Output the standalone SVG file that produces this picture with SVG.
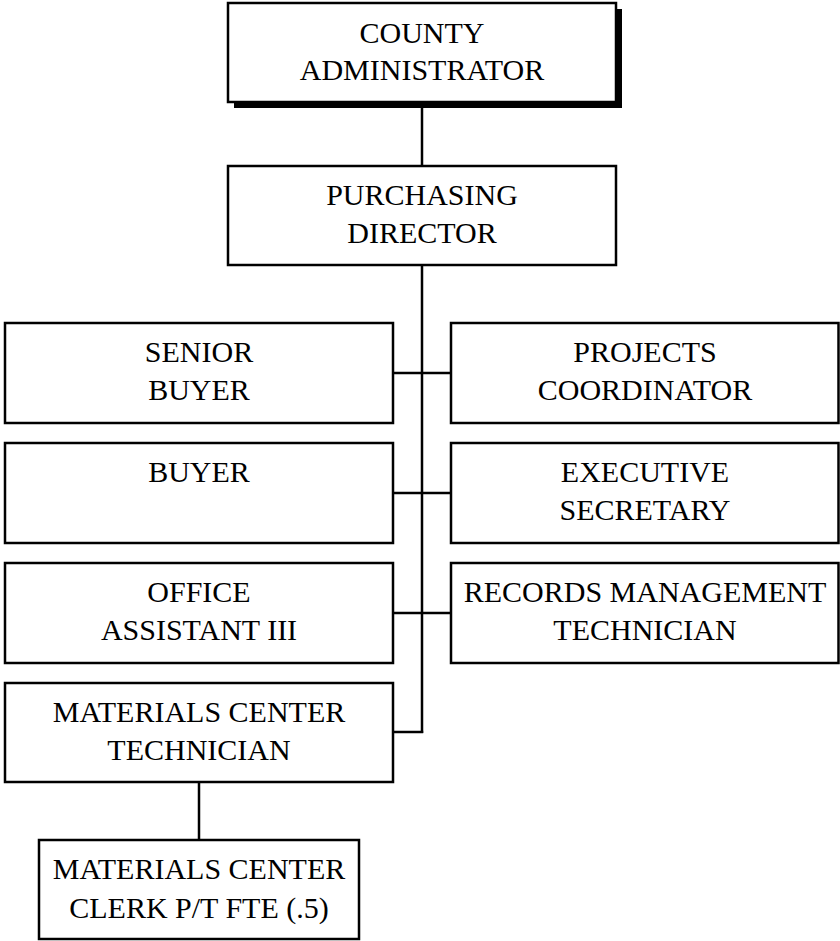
<svg xmlns="http://www.w3.org/2000/svg" width="840" height="941" viewBox="0 0 840 941">
  <style>
    .box { fill: #ffffff; stroke: #000000; stroke-width: 2.5; }
    .shadow { fill: #000000; }
    .lbl { font-family: "Liberation Serif", "Times New Roman", serif; font-size: 30px; fill: #000000; text-anchor: middle; }
    .conn { stroke: #000000; stroke-width: 2.5; fill: none; }
  </style>

  <!-- reporting lines -->
  <g id="connectors">
    <line class="conn" x1="422" y1="102" x2="422" y2="166"/>
    <line class="conn" x1="422" y1="265" x2="422" y2="733"/>
    <line class="conn" x1="393" y1="373" x2="451" y2="373"/>
    <line class="conn" x1="393" y1="493" x2="451" y2="493"/>
    <line class="conn" x1="393" y1="613" x2="451" y2="613"/>
    <line class="conn" x1="393" y1="732" x2="423.2" y2="732"/>
    <line class="conn" x1="199" y1="782" x2="199" y2="840"/>
  </g>

  <g id="county-administrator">
    <rect class="shadow" x="234" y="9" width="388" height="99"/>
    <rect class="box" x="228" y="3" width="388" height="99"/>
    <text class="lbl" x="422" y="43">COUNTY</text>
    <text class="lbl" x="422" y="80">ADMINISTRATOR</text>
  </g>

  <g id="purchasing-director">
    <rect class="box" x="228" y="166" width="388" height="99"/>
    <text class="lbl" x="422" y="205">PURCHASING</text>
    <text class="lbl" x="422" y="243">DIRECTOR</text>
  </g>

  <g id="senior-buyer">
    <rect class="box" x="5" y="323" width="388" height="100"/>
    <text class="lbl" x="199" y="362">SENIOR</text>
    <text class="lbl" x="199" y="400">BUYER</text>
  </g>

  <g id="projects-coordinator">
    <rect class="box" x="451" y="323" width="387.5" height="100"/>
    <text class="lbl" x="645" y="362">PROJECTS</text>
    <text class="lbl" x="645" y="400">COORDINATOR</text>
  </g>

  <g id="buyer">
    <rect class="box" x="5" y="443" width="388" height="100"/>
    <text class="lbl" x="199" y="482">BUYER</text>
  </g>

  <g id="executive-secretary">
    <rect class="box" x="451" y="443" width="387.5" height="100"/>
    <text class="lbl" x="645" y="482">EXECUTIVE</text>
    <text class="lbl" x="645" y="520">SECRETARY</text>
  </g>

  <g id="office-assistant">
    <rect class="box" x="5" y="563" width="388" height="100"/>
    <text class="lbl" x="199" y="602">OFFICE</text>
    <text class="lbl" x="199" y="640">ASSISTANT III</text>
  </g>

  <g id="records-management-technician">
    <rect class="box" x="451" y="563" width="387.5" height="100"/>
    <text class="lbl" x="645" y="602">RECORDS MANAGEMENT</text>
    <text class="lbl" x="645" y="640">TECHNICIAN</text>
  </g>

  <g id="materials-center-technician">
    <rect class="box" x="5" y="683" width="388" height="99"/>
    <text class="lbl" x="199" y="722">MATERIALS CENTER</text>
    <text class="lbl" x="199" y="760">TECHNICIAN</text>
  </g>

  <g id="materials-center-clerk">
    <rect class="box" x="39" y="840" width="320" height="99"/>
    <text class="lbl" x="199" y="879">MATERIALS CENTER</text>
    <text class="lbl" x="199" y="918">CLERK P/T FTE (.5)</text>
  </g>
</svg>
